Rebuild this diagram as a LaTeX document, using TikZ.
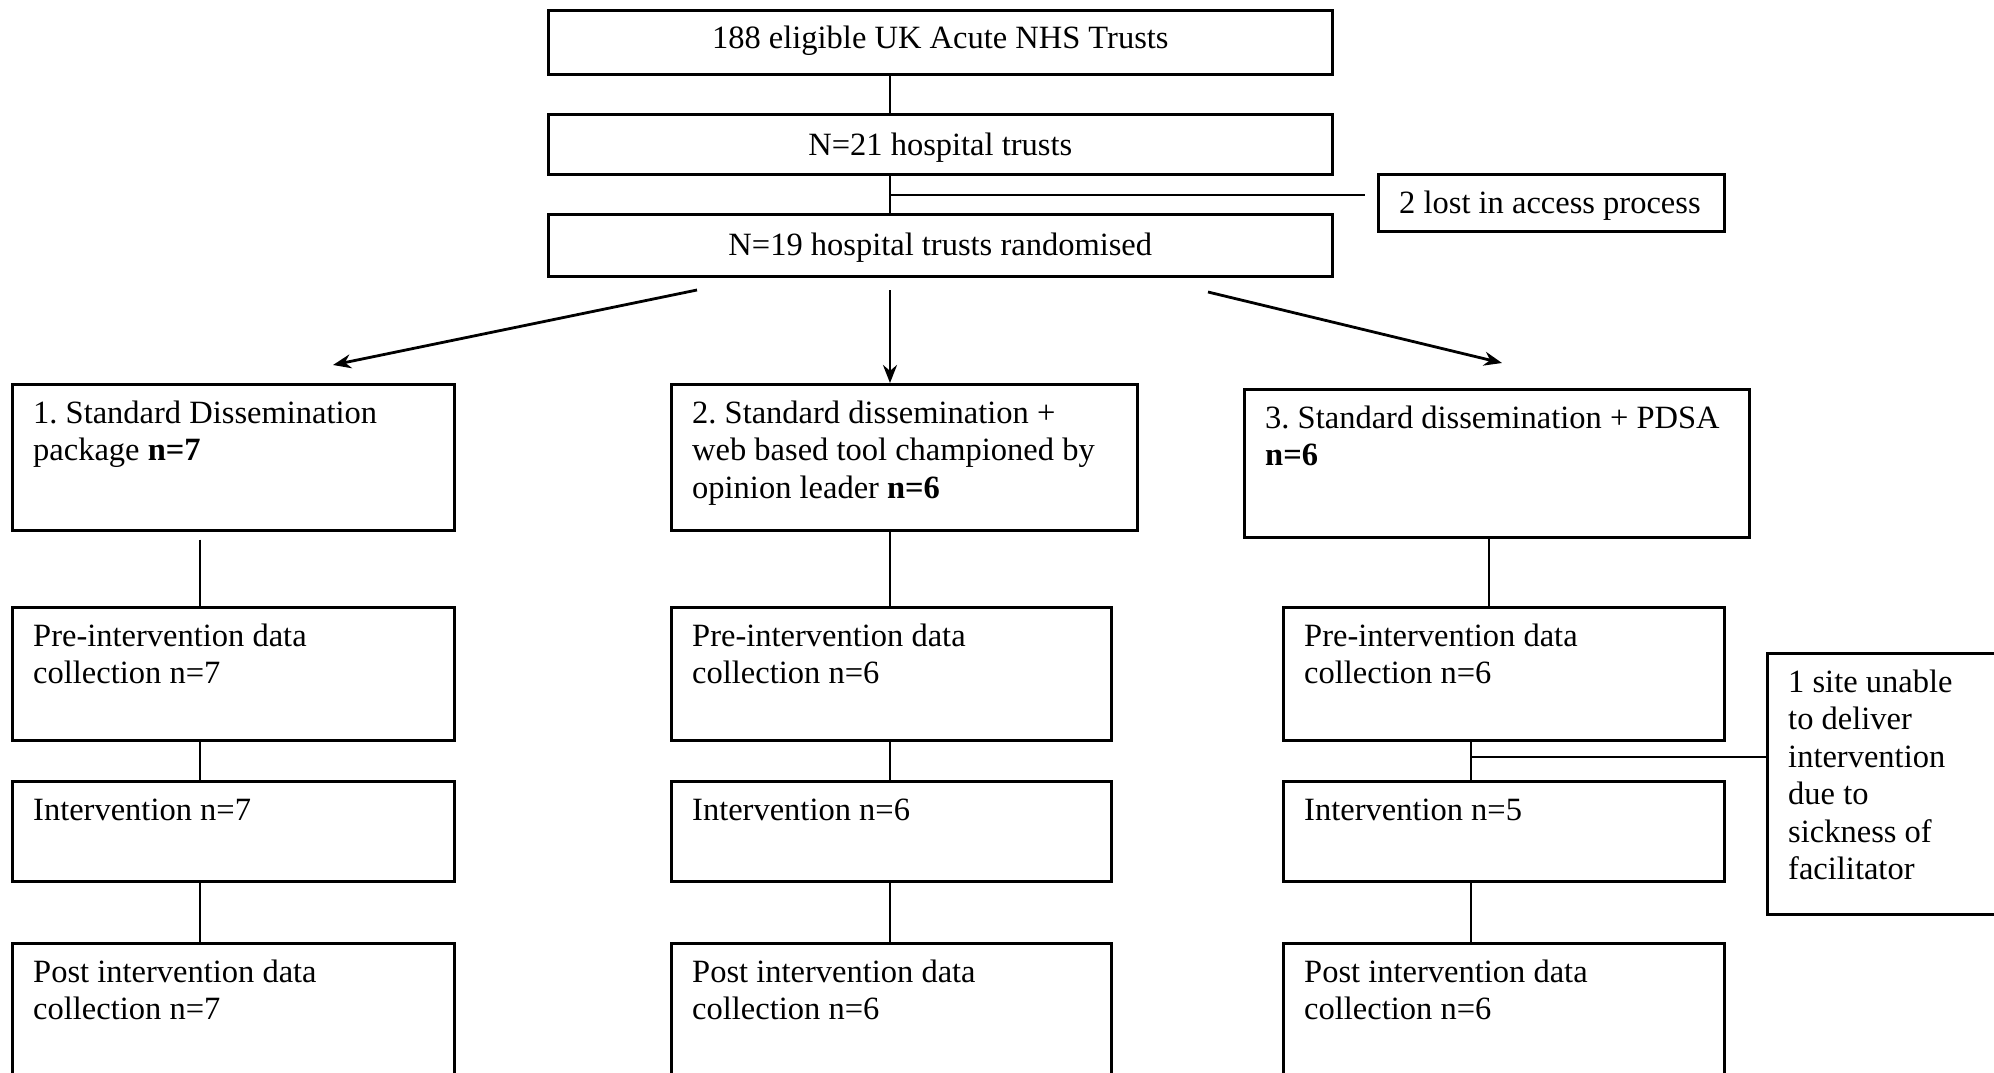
\documentclass[tikz,border=0pt]{standalone}
\usepackage{fontspec}
\setmainfont{Liberation Serif}
\usetikzlibrary{arrows.meta}
\frenchspacing

\tikzset{
  flowbox/.style={draw, line width=2.6pt, inner sep=0pt, anchor=north west},
  flowtext/.style={inner sep=0pt, align=left, font=\fontsize{32.5}{37.5}\selectfont},
  link/.style={line width=2.4pt},
  arrowlink/.style={line width=2.8pt, -{Stealth[length=18pt,width=14pt]}}
}

% #1 name, (#2,#3) top-left corner, (#4,#5) bottom-right corner, #6 text
\newcommand\panel[6]{%
  \node[flowbox, minimum width={(#4-#2)*1pt}, minimum height={(#5-#3)*1pt}] (#1) at (#2,#3) {};
  \node[flowtext, anchor=north west] (#1-text) at ([shift={(22pt,-13.75pt)}]#1.north west) {\strut #6};
}
% same box, text centred; #7 = distance from top edge to first baseline
\newcommand\cpanel[7]{%
  \node[flowbox, minimum width={(#4-#2)*1pt}, minimum height={(#5-#3)*1pt}] (#1) at (#2,#3) {};
  \node[flowtext, anchor=north] (#1-text) at ([yshift={-(#7-26.25)*1pt}]#1.north) {\strut #6};
}

\begin{document}
\begin{tikzpicture}[x=1pt, y=-1pt]
  \useasboundingbox (0,0) rectangle (1994,1073);
  \clip (0,0) rectangle (1994,1073);
  \fill[white] (0,0) rectangle (1994,1073);

  % recruitment
  \cpanel{elig}{547}{9}{1331}{73}{188 eligible UK Acute NHS Trusts}{39}
  \cpanel{trusts}{547}{113}{1331}{173}{N=21 hospital trusts}{42}
  \cpanel{rand}{547}{213}{1331}{275}{N=19 hospital trusts randomised}{42}
  \panel{lost}{1377}{173}{1723}{230}{2 lost in access process}

  % arms
  \panel{armA}{11}{383}{453}{529}{1. Standard Dissemination\\package \textbf{n=7}}
  \panel{armB}{670}{383}{1136}{529}{2. Standard dissemination +\\web based tool championed by\\opinion leader \textbf{n=6}}
  \panel{armC}{1243}{388}{1748}{536}{3. Standard dissemination + PDSA\\\textbf{n=6}}

  % pre-intervention data collection
  \panel{preA}{11}{606}{453}{739}{Pre-intervention data\\collection n=7}
  \panel{preB}{670}{606}{1110}{739}{Pre-intervention data\\collection n=6}
  \panel{preC}{1282}{606}{1723}{739}{Pre-intervention data\\collection n=6}

  % intervention
  \panel{intA}{11}{780}{453}{880}{Intervention n=7}
  \panel{intB}{670}{780}{1110}{880}{Intervention n=6}
  \panel{intC}{1282}{780}{1723}{880}{Intervention n=5}

  % post intervention data collection
  \panel{postA}{11}{942}{453}{1100}{Post intervention data\\collection n=7}
  \panel{postB}{670}{942}{1110}{1100}{Post intervention data\\collection n=6}
  \panel{postC}{1282}{942}{1723}{1100}{Post intervention data\\collection n=6}

  % drop-out note
  \panel{sick}{1766}{652}{2010}{913}{1 site unable\\to deliver\\intervention\\due to\\sickness of\\facilitator}

  % connector guide points
  \coordinate (mid) at (890,0);
  \coordinate (colA) at (200,0);
  \coordinate (colC) at (1489,0);
  \coordinate (colCc) at (1471,0);
  \coordinate (lostend) at (1365,195);
  \coordinate (sA) at (697,290);
  \coordinate (sB) at (890,290);
  \coordinate (sC) at (1208,292);
  \coordinate (tA) at (333,365);
  \coordinate (tC) at (1502,363);

  % recruitment flow
  \draw[link] (elig.south -| mid) -- (trusts.north -| mid);
  \draw[link] (trusts.south -| mid) -- (rand.north -| mid);
  \draw[link] (mid |- lostend) -- (lostend);

  % randomisation arrows
  \draw[arrowlink] (sA) -- (tA);
  \draw[arrowlink] (sB) -- (sB |- armB.north);
  \draw[arrowlink] (sC) -- (tC);

  % arm 1
  \draw[link] ([yshift=-8pt]armA.south -| colA) -- (preA.north -| colA);
  \draw[link] (preA.south -| colA) -- (intA.north -| colA);
  \draw[link] (intA.south -| colA) -- (postA.north -| colA);

  % arm 2
  \draw[link] (armB.south -| mid) -- (preB.north -| mid);
  \draw[link] (preB.south -| mid) -- (intB.north -| mid);
  \draw[link] (intB.south -| mid) -- (postB.north -| mid);

  % arm 3
  \draw[link] (armC.south -| colC) -- (preC.north -| colC);
  \draw[link] (preC.south -| colCc) -- (intC.north -| colCc);
  \draw[link] (intC.south -| colCc) -- (postC.north -| colCc);
  \draw[link] (colCc |- 0,757) -- (sick.west |- 0,757);
\end{tikzpicture}
\end{document}
